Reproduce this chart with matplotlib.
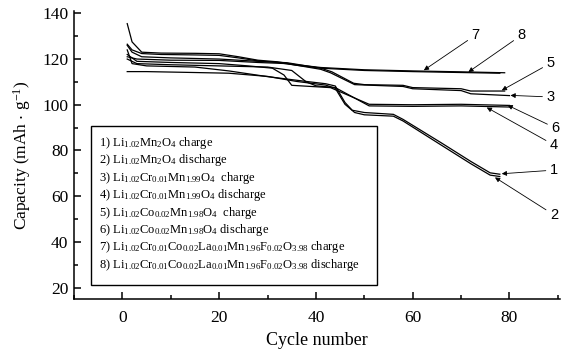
import matplotlib
matplotlib.use("Agg")
import matplotlib.pyplot as plt
from matplotlib.ticker import MultipleLocator
from matplotlib.patches import Rectangle

plt.rcParams['font.family'] = ['Liberation Serif', 'DejaVu Serif']
plt.rcParams['mathtext.fontset'] = 'custom'
plt.rcParams['mathtext.rm'] = 'Liberation Serif'
plt.rcParams['mathtext.it'] = 'Liberation Serif:italic'
plt.rcParams['mathtext.default'] = 'regular'

# ---- data (cycle number, capacity mAh/g) ----
x1 = [1, 2, 5, 15, 22, 30, 38, 42, 44, 46, 47.5, 50, 56, 58, 66, 72, 76, 78]
y1 = [124, 118, 117, 116.5, 114.8, 112.3, 110.2, 109.2, 108.2, 101, 97.6, 96.6, 95.8, 93.6, 83.2, 75.2, 70.2, 69.6]

x2 = [1, 5, 15, 22, 30, 36, 42, 44, 46, 48, 50, 56, 58, 66, 72, 76, 78]
y2 = [114.5, 114.5, 114.1, 113.8, 112.4, 110.2, 108.6, 107.2, 100.2, 96.6, 95.6, 95.0, 92.9, 82.2, 74.2, 69.2, 68.6]

x3 = [1, 3, 10, 20, 28, 34, 41, 43, 48, 58, 60, 70, 72, 80]
y3 = [121, 120, 119.5, 119.4, 118.5, 118, 115.5, 114, 108.8, 108, 107, 106.2, 104.8, 104]

x4 = [1, 3, 10, 20, 30, 35, 38, 40, 44, 51, 60, 70, 80]
y4 = [120, 118, 117.5, 117, 116.5, 115, 110, 108.3, 107.5, 99.5, 99.3, 99.5, 99]

x5 = [1, 2, 4, 10, 20, 28, 34, 41, 43.3, 47.8, 50, 58, 60, 70, 72, 79]
y5 = [126, 123, 121, 120.5, 120, 119, 118.4, 116, 114.4, 109.4, 108.8, 108.5, 107.5, 107, 106, 106]

x6 = [1, 3, 10, 20, 26, 31, 33.4, 35, 39, 43, 51, 60, 70, 80]
y6 = [122, 119, 118.5, 118, 117, 116, 113, 108.5, 108, 107.5, 100.2, 100, 100.2, 99.7]

x7 = [1, 2, 4, 8, 15, 20, 24, 28, 32, 36, 41, 50, 60, 70, 79]
y7 = [135.5, 127.5, 123, 122.6, 122.5, 122.3, 121, 119.5, 118.8, 117.5, 116.3, 115.3, 114.8, 114.4, 114]

x8 = [1, 2, 4, 8, 15, 20, 24, 28, 32, 36, 41, 50, 60, 70, 78]
y8 = [126.5, 124, 122.4, 122, 121.8, 121.6, 120.5, 119.2, 118.5, 117.3, 116, 115, 114.5, 114.1, 113.8]

series_x = [x1, x2, x3, x4, x5, x6, x7, x8]
series_y = [y1, y2, y3, y4, y5, y6, y7, y8]

legend_labels = [
    r"1) Li$_{1.02}$Mn$_{2}$O$_{4}$ charge",
    r"2) Li$_{1.02}$Mn$_{2}$O$_{4}$ discharge",
    r"3) Li$_{1.02}$Cr$_{0.01}$Mn$_{1.99}$O$_{4}$  charge",
    r"4) Li$_{1.02}$Cr$_{0.01}$Mn$_{1.99}$O$_{4}$ discharge",
    r"5) Li$_{1.02}$Co$_{0.02}$Mn$_{1.98}$O$_{4}$  charge",
    r"6) Li$_{1.02}$Co$_{0.02}$Mn$_{1.98}$O$_{4}$ discharge",
    r"7) Li$_{1.02}$Cr$_{0.01}$Co$_{0.02}$La$_{0.01}$Mn$_{1.96}$F$_{0.02}$O$_{3.98}$ charge",
    r"8) Li$_{1.02}$Cr$_{0.01}$Co$_{0.02}$La$_{0.01}$Mn$_{1.96}$F$_{0.02}$O$_{3.98}$ discharge",
]

# curve number labels: (text, label position, arrow target)
callouts = [
    ("7", (73, 130.5), (62.3, 115.1)),
    ("8", (82.5, 130.5), (71.5, 114.3)),
    ("5", (88.5, 118.2), (78.4, 106.3)),
    ("3", (88.5, 103.4), (80.2, 104.1)),
    ("6", (89.5, 89.8), (79.6, 99.8)),
    ("4", (89.2, 82.4), (75.3, 98.8)),
    ("1", (89.2, 71.4), (78.4, 69.8)),
    ("2", (89.2, 51.8), (77.0, 68.2)),
]

fig = plt.figure(figsize=(5.61, 3.52), dpi=100)
ax = fig.add_axes([0.1319, 0.1506, 0.866, 0.818])

for xs, ys in zip(series_x, series_y):
    ax.plot(xs, ys, color='black', lw=0.9)

ax.set_xlim(-10, 90.4)
ax.set_ylim(15, 141)
ax.spines['top'].set_visible(False)
ax.spines['right'].set_visible(False)
for s in ['left', 'bottom']:
    ax.spines[s].set_linewidth(1.1)

ax.xaxis.set_major_locator(MultipleLocator(20))
ax.xaxis.set_minor_locator(MultipleLocator(10))
ax.yaxis.set_major_locator(MultipleLocator(20))
ax.yaxis.set_minor_locator(MultipleLocator(10))
ax.set_yticks(range(20, 141, 20))
ax.tick_params(which='both', direction='in', width=1.1, labelsize=12.5,
               labelfontfamily='Liberation Serif')
ax.tick_params(which='major', length=5)
ax.tick_params(which='minor', length=3)
ax.tick_params(axis='x', pad=8)
ax.tick_params(axis='y', pad=4)

ax.set_xlabel("Cycle number", fontsize=13, labelpad=4)
ax.set_ylabel(r"Capacity (mAh $\cdot$ g$^{-1}$)", fontsize=12.5, labelpad=7)

# legend box
ax.add_patch(Rectangle((0.035, 0.049), 0.589, 0.552, transform=ax.transAxes,
                       fill=False, lw=1.0, edgecolor='black', zorder=3))
top, bot = 0.531, 0.108
for i, lab in enumerate(legend_labels):
    yy = top - i * (top - bot) / 7
    ax.text(0.051, yy, lab, transform=ax.transAxes, fontsize=9,
            ha='left', va='baseline')

for txt, pos, tgt in callouts:
    ax.annotate(txt, xy=tgt, xytext=pos, fontsize=10.5,
                family=['Liberation Sans', 'DejaVu Sans'],
                ha='center', va='center',
                arrowprops=dict(arrowstyle='-|>', lw=0.6, color='black',
                                mutation_scale=7, shrinkA=1, shrinkB=0))

fig.savefig("out.png", dpi=100)
